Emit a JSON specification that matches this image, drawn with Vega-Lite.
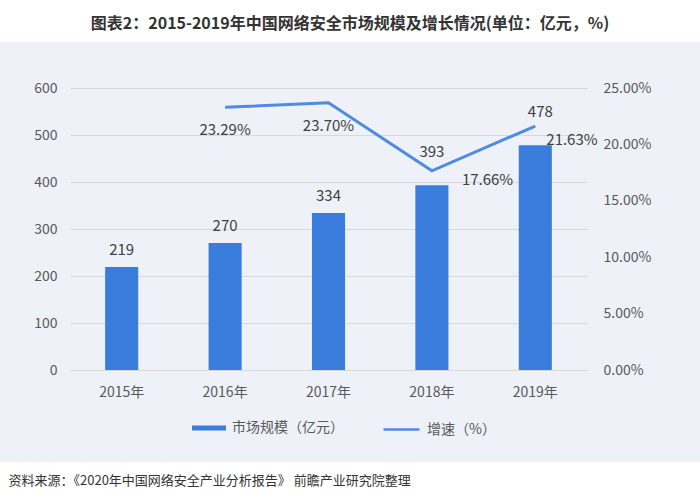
{
  "$schema": "https://vega.github.io/schema/vega-lite/v6.json",
  "width": 700,
  "height": 420,
  "autosize": {"type": "none"},
  "padding": {"top": 42, "bottom": 42, "left": 0, "right": 0},
  "background": "#ffffff",
  "title": {
    "text": "图表2：2015-2019年中国网络安全市场规模及增长情况(单位：亿元，%)",
    "anchor": "middle",
    "frame": "group",
    "offset": 2,
    "baseline": "middle",
    "fontSize": 16,
    "fontWeight": "bold",
    "color": "#333333",
    "font": "Noto Sans CJK SC"
  },
  "config": {
    "font": "Noto Sans CJK SC",
    "view": {"fill": "#eef2f8", "stroke": null},
    "axis": {"labelFont": "Noto Sans CJK SC", "labelColor": "#595959", "labelFontSize": 14},
    "legend": {"labelFont": "Noto Sans CJK SC", "labelColor": "#595959", "labelFontSize": 14, "labelOffset": 6}
  },
  "data": {
    "values": [
      {"year": "2015年", "size": 219, "growth": null},
      {"year": "2016年", "size": 270, "growth": 0.2329},
      {"year": "2017年", "size": 334, "growth": 0.2370},
      {"year": "2018年", "size": 393, "growth": 0.1766},
      {"year": "2019年", "size": 478, "growth": 0.2163}
    ]
  },
  "layer": [
    {
      "layer": [
        {
          "mark": {"type": "bar"},
          "encoding": {
            "x": {
              "field": "year", "type": "nominal", "sort": null,
              "scale": {"range": [70, 587], "paddingInner": 0.68, "paddingOuter": 0.34},
              "axis": {
                "title": "资料来源：《2020年中国网络安全产业分析报告》 前瞻产业研究院整理",
                "titleX": 8, "titleY": 110, "titleAlign": "left", "titleAnchor": "start",
                "titleBaseline": "middle", "titleFontSize": 13, "titleFontWeight": "normal",
                "titleColor": "#333333", "titleFont": "Noto Sans CJK SC",
                "labelAngle": 0, "labelPadding": 15, "ticks": false,
                "domain": true, "domainColor": "#d9d9d9", "offset": -92, "grid": false
              }
            },
            "y": {
              "field": "size", "type": "quantitative",
              "scale": {"domain": [0, 600], "range": [328, 46], "nice": false},
              "axis": {
                "orient": "left", "offset": -70, "values": [0, 100, 200, 300, 400, 500, 600],
                "grid": true, "gridColor": "#d9d9d9", "domain": false, "ticks": false,
                "labelPadding": 13, "title": null
              }
            },
            "fill": {
              "datum": "市场规模（亿元）",
              "scale": {"range": ["#3b7ddd"]},
              "legend": {
                "orient": "none", "legendX": 192, "legendY": 369, "title": null,
                "symbolType": "M-1,-0.15H1V0.15H-1Z", "symbolSize": 1156, "symbolStrokeWidth": 0
              }
            }
          }
        },
        {
          "transform": [{"filter": "datum.size < 350"}],
          "mark": {"type": "text", "dy": -17, "fontSize": 15, "color": "#404040", "baseline": "middle"},
          "encoding": {
            "x": {"field": "year", "type": "nominal", "sort": null},
            "y": {"field": "size", "type": "quantitative"},
            "text": {"field": "size"}
          }
        },
        {
          "transform": [{"filter": "datum.year == '2018年'"}],
          "mark": {"type": "text", "dy": -33, "fontSize": 15, "color": "#404040", "baseline": "middle"},
          "encoding": {
            "x": {"field": "year", "type": "nominal", "sort": null},
            "y": {"field": "size", "type": "quantitative"},
            "text": {"field": "size"}
          }
        },
        {
          "transform": [{"filter": "datum.year == '2019年'"}],
          "mark": {"type": "text", "dy": -33, "dx": 5, "fontSize": 15, "color": "#404040", "baseline": "middle"},
          "encoding": {
            "x": {"field": "year", "type": "nominal", "sort": null},
            "y": {"field": "size", "type": "quantitative"},
            "text": {"field": "size"}
          }
        }
      ]
    },
    {
      "transform": [{"filter": "datum.growth != null"}],
      "layer": [
        {
          "mark": {"type": "line", "strokeWidth": 3},
          "encoding": {
            "x": {"field": "year", "type": "nominal", "sort": null},
            "y": {
              "field": "growth", "type": "quantitative",
              "scale": {"domain": [0, 0.25], "range": [328, 46], "nice": false},
              "axis": {
                "orient": "right", "offset": -113, "format": ".2%",
                "values": [0, 0.05, 0.1, 0.15, 0.2, 0.25],
                "grid": false, "domain": false, "ticks": false, "labelPadding": 16, "title": null
              }
            },
            "stroke": {
              "datum": "增速（%）",
              "scale": {"range": ["#4e8be2"]},
              "legend": {
                "orient": "none", "legendX": 382, "legendY": 368, "title": null,
                "symbolType": "stroke", "symbolSize": 1296, "symbolStrokeWidth": 2.5
              }
            }
          }
        },
        {
          "transform": [{"filter": "datum.year == '2016年' || datum.year == '2017年'"}],
          "mark": {"type": "text", "dy": 23, "fontSize": 15, "color": "#404040", "baseline": "middle"},
          "encoding": {
            "x": {"field": "year", "type": "nominal", "sort": null},
            "y": {"field": "growth", "type": "quantitative"},
            "text": {"field": "growth", "format": ".2%"}
          }
        },
        {
          "transform": [{"filter": "datum.year == '2018年'"}],
          "mark": {"type": "text", "dy": 9, "dx": 30, "align": "left", "fontSize": 15, "color": "#404040", "baseline": "middle"},
          "encoding": {
            "x": {"field": "year", "type": "nominal", "sort": null},
            "y": {"field": "growth", "type": "quantitative"},
            "text": {"field": "growth", "format": ".2%"}
          }
        },
        {
          "transform": [{"filter": "datum.year == '2019年'"}],
          "mark": {"type": "text", "dy": 14, "dx": 11, "align": "left", "fontSize": 15, "color": "#404040", "baseline": "middle"},
          "encoding": {
            "x": {"field": "year", "type": "nominal", "sort": null},
            "y": {"field": "growth", "type": "quantitative"},
            "text": {"field": "growth", "format": ".2%"}
          }
        }
      ]
    }
  ],
  "resolve": {"scale": {"y": "independent"}}
}
